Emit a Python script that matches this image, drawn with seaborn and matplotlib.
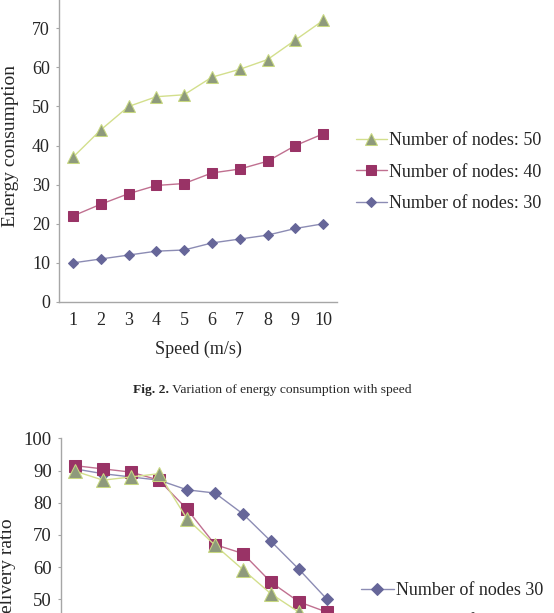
import matplotlib
matplotlib.use("Agg")
import matplotlib.pyplot as plt
import seaborn as sns

# ---------------- data ----------------
speed = [1, 2, 3, 4, 5, 6, 7, 8, 9, 10]

energy_50 = [37, 44, 50, 52.5, 53, 57.5, 59.5, 62, 67, 72]
energy_40 = [22, 25, 27.7, 29.8, 30.3, 33, 34, 36, 40, 43]
energy_30 = [10, 11, 12, 13, 13.3, 15.1, 16.1, 17.1, 18.8, 20]

pdr_30 = [90.5, 89, 88, 87, 84, 83, 76.5, 68, 59.3, 50]
pdr_40 = [91.5, 90.5, 89.5, 87, 78, 67, 64.2, 55.3, 49.2, 46]
pdr_50 = [89.8, 87, 88, 89, 75, 66.8, 59.2, 51.7, 46, 40]

top_labels = ["Number of nodes: 50", "Number of nodes: 40", "Number of nodes: 30"]
bottom_labels = ["Number of nodes 30", "Number of nodes 40", "Number of nodes 50"]
y_ticks_top = [0, 10, 20, 30, 40, 50, 60, 70, 80]
y_ticks_bottom = [0, 10, 20, 30, 40, 50, 60, 70, 80, 90, 100]

caption_bold = "Fig. 2."
caption_rest = " Variation of energy consumption with speed"

# ---------------- style ----------------
sns.set_style("white")
plt.rcParams["font.family"] = ["Liberation Serif", "DejaVu Serif"]

styles = {
    50: dict(color="#d3df8c", marker="^", markerfacecolor="#8e9a7c",
             markeredgecolor="#c8d880", markersize=8.5),
    40: dict(color="#c07090", marker="s", markerfacecolor="#993366",
             markeredgecolor="#993366", markersize=7.5),
    30: dict(color="#8c8cb4", marker="D", markerfacecolor="#666699",
             markeredgecolor="#666699", markersize=5.2),
}

W, H = 554, 613
fig = plt.figure(figsize=(W / 100, H / 100), dpi=100)
fig.patch.set_facecolor("white")

spine_col = "#a6a6a6"


def px_axes(x0, x1, ytop, ybot):
    return fig.add_axes([x0 / W, 1 - ybot / H, (x1 - x0) / W, (ybot - ytop) / H])


def style_axes(ax, fs):
    for s in ["top", "right"]:
        ax.spines[s].set_visible(False)
    for s in ["left", "bottom"]:
        ax.spines[s].set_color(spine_col)
        ax.spines[s].set_linewidth(1.0)
    ax.tick_params(axis="y", length=2.5, width=0.8, color=spine_col,
                   labelsize=fs, pad=4, direction="out", left=True)
    ax.tick_params(axis="x", length=0, labelsize=fs, pad=7)


# ---------------- top chart ----------------
ax1 = px_axes(59, 337, 302 - 80 * 3.91, 302)
top_series = [(50, energy_50), (40, energy_40), (30, energy_30)]
for (n, vals), lab in zip(top_series, top_labels):
    sns.lineplot(x=speed, y=vals, ax=ax1, linewidth=1.0, label=lab, **styles[n])
ax1.set_xlim(0.5, 10.5)
ax1.set_ylim(0, 80)
ax1.set_xticks(speed)
ax1.set_yticks(y_ticks_top)
ax1.set_xlabel("Speed (m/s)", fontsize=13, labelpad=8.5)
ax1.set_ylabel("Energy consumption", fontsize=14, labelpad=9.5)
style_axes(ax1, 13)
h1, l1 = ax1.get_legend_handles_labels()
ax1.get_legend().remove()
fig.legend(h1, l1, loc="center left", bbox_to_anchor=(356 / W, 1 - 172 / H),
           bbox_transform=fig.transFigure, frameon=False, fontsize=13,
           borderpad=0, borderaxespad=0, handlelength=1.7, handletextpad=0.12,
           labelspacing=0.8)

# ---------------- caption ----------------
t = fig.text(133 / W, 1 - 393 / H, caption_bold, fontsize=9.7, fontweight="bold",
             va="baseline")
fig.canvas.draw()
bb = t.get_window_extent()
fig.text(bb.x1 / W, 1 - 393 / H, caption_rest, fontsize=9.7, va="baseline")

# ---------------- bottom chart ----------------
ax2 = px_axes(61, 341, 438.3, 438.3 + 322)
bottom_series = [(30, pdr_30), (40, pdr_40), (50, pdr_50)]
for (n, vals), lab in zip(bottom_series, bottom_labels):
    st = dict(styles[n])
    st["markersize"] = st["markersize"] * 1.12
    sns.lineplot(x=speed, y=vals, ax=ax2, linewidth=1.0, label=lab, **st)
ax2.set_xlim(0.5, 10.5)
ax2.set_ylim(0, 100)
ax2.set_xticks(speed)
ax2.set_yticks(y_ticks_bottom)
ax2.set_xlabel("Speed (m/s)", fontsize=13)
ax2.set_ylabel("Packet delivery ratio", fontsize=14, labelpad=6)
style_axes(ax2, 13.5)
h2, l2 = ax2.get_legend_handles_labels()
ax2.get_legend().remove()
fig.legend(h2, l2, loc="upper left", bbox_to_anchor=(361 / W, 1 - 582 / H),
           bbox_transform=fig.transFigure, frameon=False, fontsize=13,
           borderpad=0, borderaxespad=0, handlelength=1.8, handletextpad=0.12,
           labelspacing=0.8)

fig.savefig("out.png", dpi=100, facecolor="white")
